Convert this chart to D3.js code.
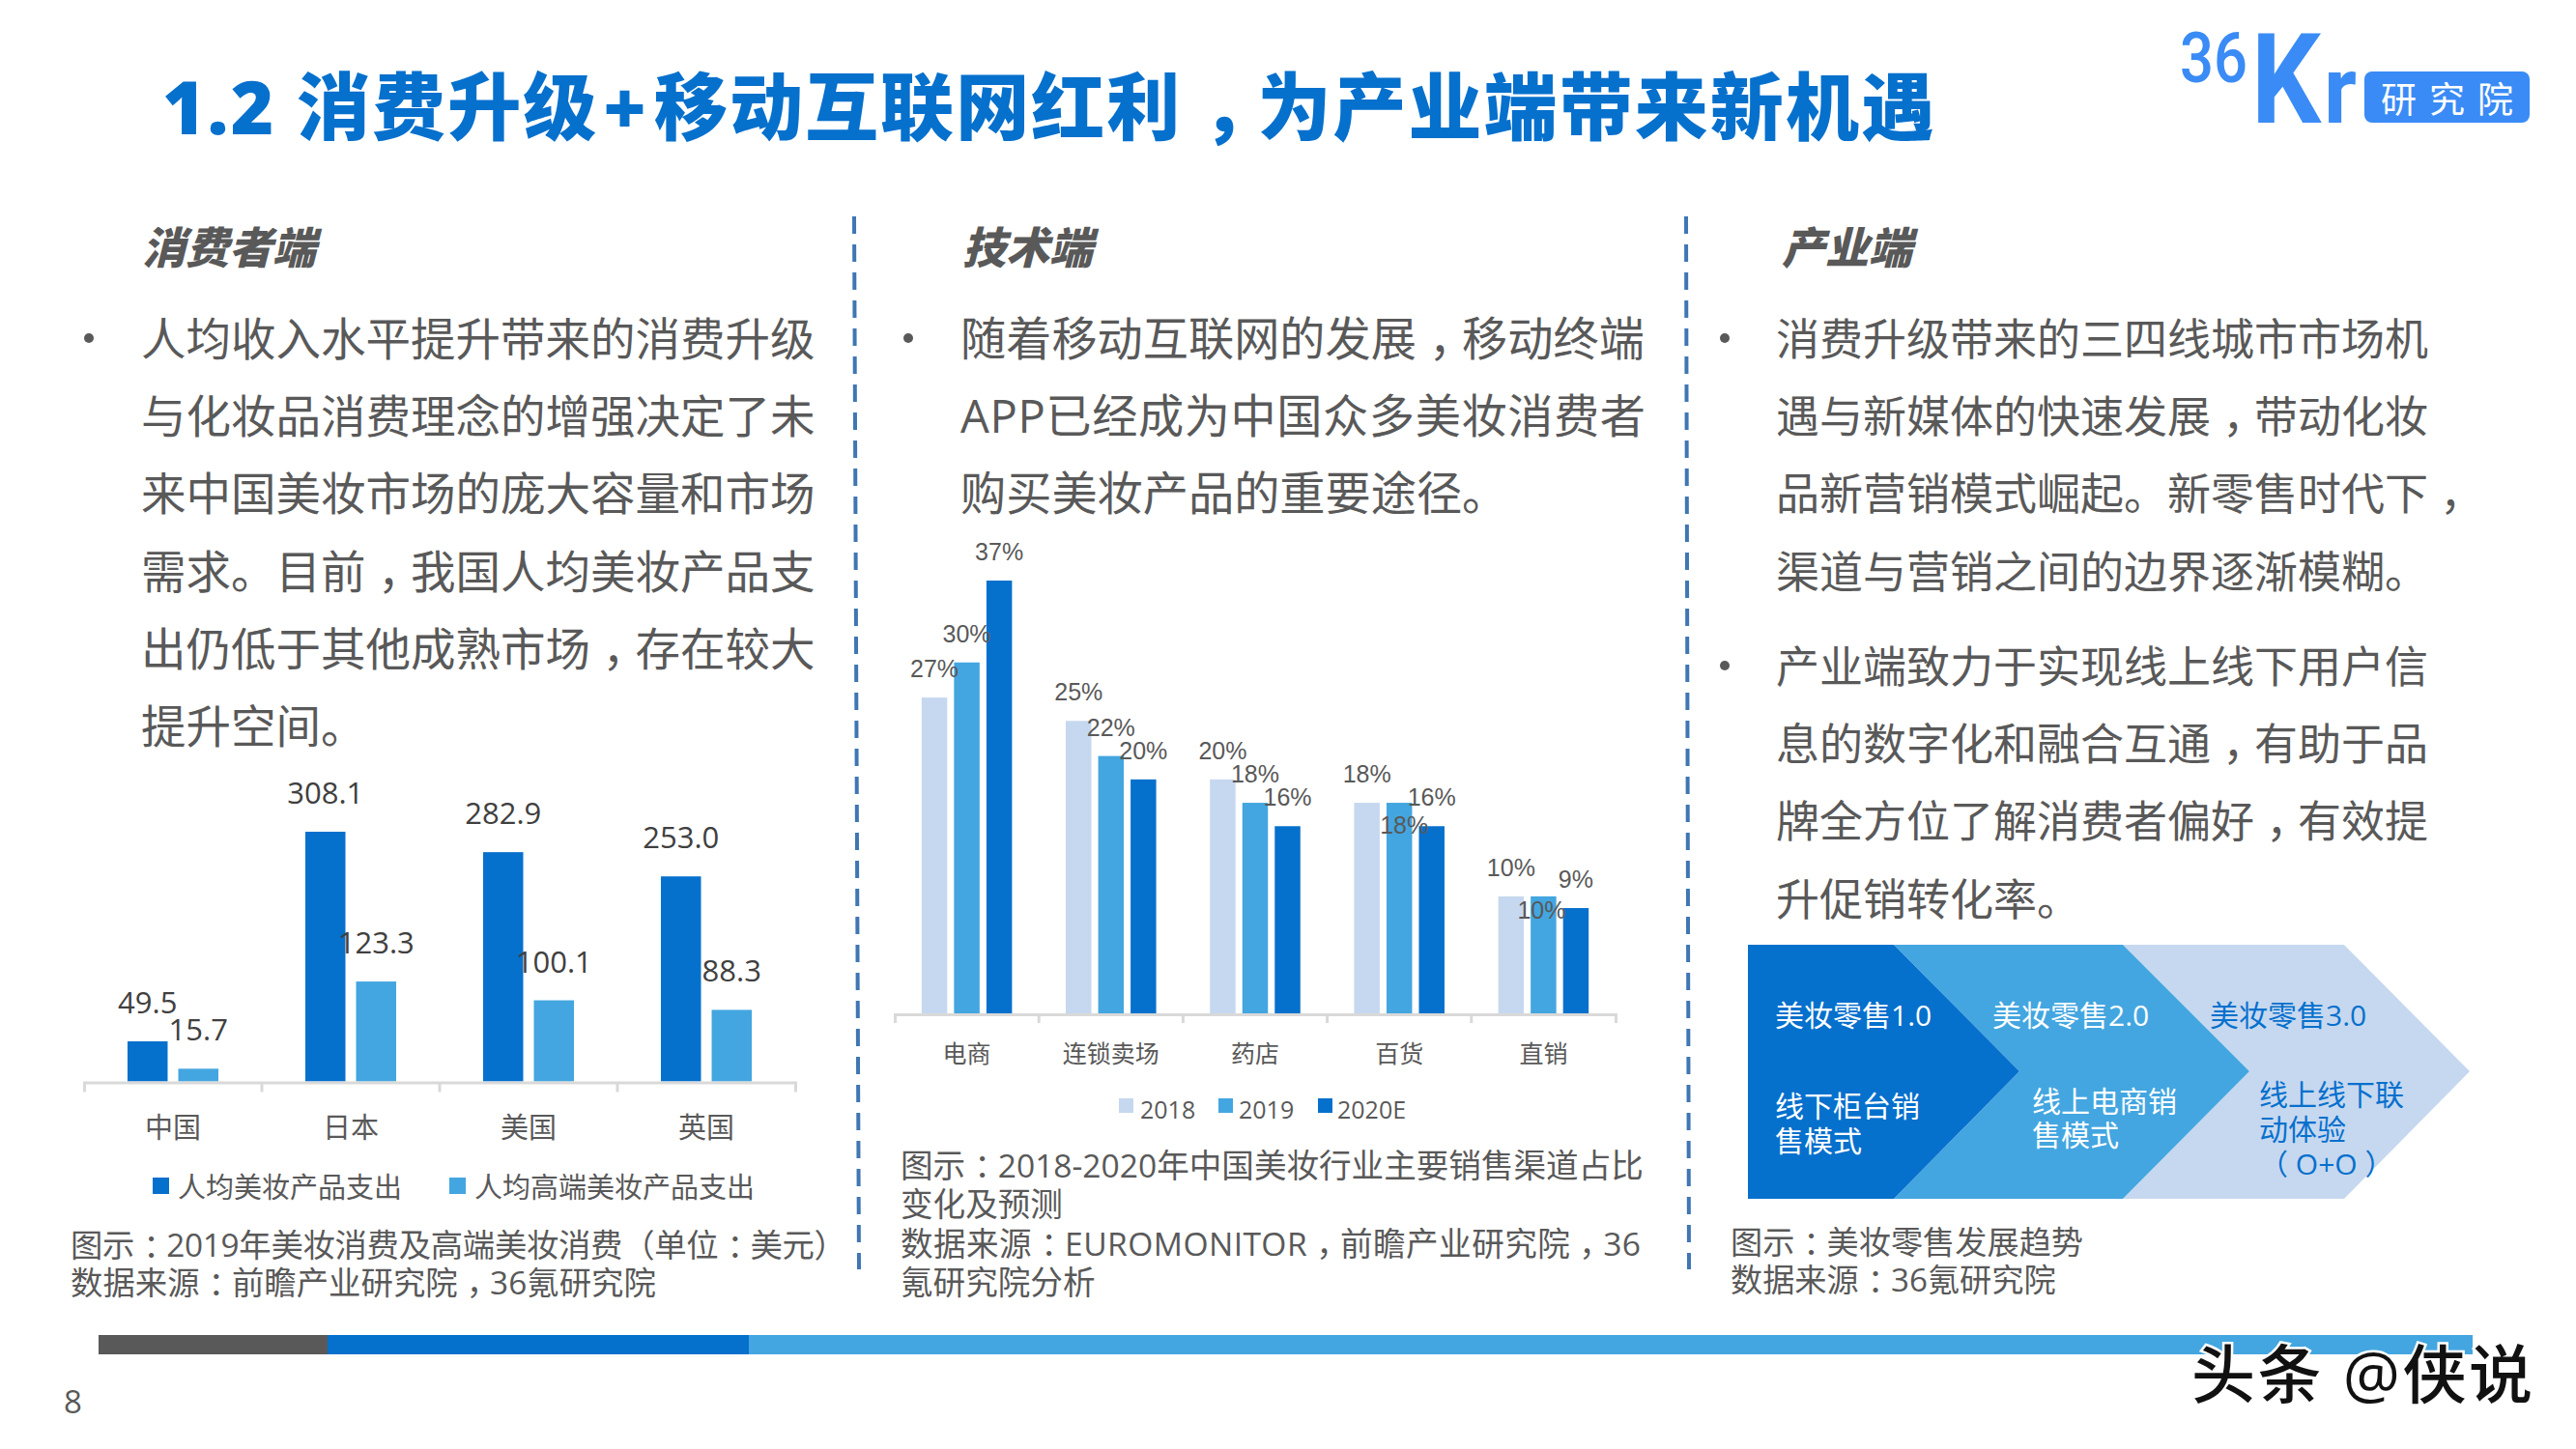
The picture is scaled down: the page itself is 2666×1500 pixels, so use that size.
<!DOCTYPE html>
<html>
<head>
<meta charset="utf-8">
<script src="https://cdn.jsdelivr.net/npm/d3@7"></script>
<style>
  html, body { margin: 0; padding: 0; background: #fff; }
  svg { display: block; }
  text { font-family: "Open Sans", "Noto Sans CJK SC", sans-serif; }
</style>
</head>
<body>
<svg id="slide" width="2666" height="1500"></svg>
<script>
// Spending per head chart
const spendCountries = ['中国', '日本', '美国', '英国'];
const spendSeries = ['人均美妆产品支出', '人均高端美妆产品支出'];
const spendAll = [49.5, 308.1, 282.9, 253.0];
const spendPremium = [15.7, 123.3, 100.1, 88.3];

// Sales channel chart
const channels = ['电商', '连锁卖场', '药店', '百货', '直销'];
const channelYears = ['2018', '2019', '2020E'];
const share2018 = [27, 25, 20, 18, 10];
const share2019 = [30, 22, 18, 18, 10];
const share2020 = [37, 20, 16, 16, 9];

// Retail stages
const stageTitles = ['美妆零售1.0', '美妆零售2.0', '美妆零售3.0'];
const stageNotes = [['线下柜台销', '售模式'], ['线上电商销', '售模式'], ['线上线下联', '动体验', '（ O+O ）']];

// Copy
const titleParts = ['1.2 消费升级', '+', '移动互联网红利，为产业端带来新机遇'];
const headings = ['消费者端', '技术端', '产业端'];
const consumerLines = ['人均收入水平提升带来的消费升级', '与化妆品消费理念的增强决定了未', '来中国美妆市场的庞大容量和市场',
  '需求。目前，我国人均美妆产品支', '出仍低于其他成熟市场，存在较大', '提升空间。'];
const techLines = ['随着移动互联网的发展，移动终端', 'APP已经成为中国众多美妆消费者', '购买美妆产品的重要途径。'];
const industryLinesA = ['消费升级带来的三四线城市市场机', '遇与新媒体的快速发展，带动化妆', '品新营销模式崛起。新零售时代下，', '渠道与营销之间的边界逐渐模糊。'];
const industryLinesB = ['产业端致力于实现线上线下用户信', '息的数字化和融合互通，有助于品', '牌全方位了解消费者偏好，有效提', '升促销转化率。'];
const captionLeft = ['图示：2019年美妆消费及高端美妆消费（单位：美元）', '数据来源：前瞻产业研究院，36氪研究院'];
const captionMid = ['图示：2018-2020年中国美妆行业主要销售渠道占比', '变化及预测', '数据来源：EUROMONITOR，前瞻产业研究院，36', '氪研究院分析'];
const captionRight = ['图示：美妆零售发展趋势', '数据来源：36氪研究院'];

const BLUE = '#0670cd', SKY = '#43a6e0', PALE = '#c6d8ef', GREY = '#595959', AXIS = '#d9d9d9', LOGO = '#3a8bf5';

const svg = d3.select('#slide');

// Commas and colons sit in the middle of their em box in the reference, so nudge them
function fillText(t, str) {
  str.split(/([，：])/).filter(s => s).forEach(part => {
    const span = t.append('tspan').text(part);
    if (part === '，' || part === '：') span.attr('dx', '0.27em').attr('letter-spacing', '-0.27em');
  });
  return t;
}

function label(parent, x, y, str, size, fill, extra) {
  const t = parent.append('text')
    .attr('x', x).attr('y', y)
    .attr('dominant-baseline', 'central')
    .attr('font-size', size)
    .attr('fill', fill);
  fillText(t, str);
  if (extra) Object.entries(extra).forEach(([k, v]) => t.attr(k, v));
  return t;
}

// ---- Title and logo
const title = svg.append('text').attr('x', 168).attr('y', 139)
  .attr('font-size', 76).attr('font-weight', 900).attr('fill', BLUE);
title.append('tspan').text(titleParts[0]);
title.append('tspan').attr('dx', 5).text(titleParts[1]);
const titleTail = title.append('tspan').attr('dx', 6);
fillText(titleTail, titleParts[2]);
title.attr('textLength', 1834).attr('lengthAdjust', 'spacing');

const logo = svg.append('g').attr('fill', LOGO);
logo.append('text').attr('x', 2256).attr('y', 85).attr('font-size', 72).attr('font-weight', 500)
  .attr('textLength', 70).attr('lengthAdjust', 'spacingAndGlyphs').attr('style', 'font-family:Roboto').text('36');
logo.append('text').attr('x', 2330).attr('y', 127).attr('font-size', 130).attr('font-weight', 700)
  .attr('textLength', 72).attr('lengthAdjust', 'spacingAndGlyphs').attr('style', 'font-family:Roboto').text('K');
logo.append('text').attr('x', 2405).attr('y', 127).attr('font-size', 98).attr('font-weight', 700)
  .attr('textLength', 34).attr('lengthAdjust', 'spacingAndGlyphs').attr('style', 'font-family:Roboto').text('r');
logo.append('rect').attr('x', 2447).attr('y', 74).attr('width', 171).attr('height', 53).attr('rx', 8);
label(svg, 2464, 102, '研究院', 37, '#fff', { 'letter-spacing': 13 });

// ---- Column dividers
[[884, 889], [1745, 1748]].forEach(([x1, x2]) => {
  svg.append('line').attr('x1', x1).attr('x2', x2).attr('y1', 224).attr('y2', 1314)
    .attr('stroke', '#3f76b3').attr('stroke-width', 4).attr('stroke-dasharray', '18 11');
});

// ---- Headings and body text
const headingX = [147, 996, 1844];
headings.forEach((h, i) => {
  label(svg, headingX[i], 255, h, 45, GREY, { 'font-weight': 900, 'font-style': 'italic' });
});

function paragraph(lines, bulletX, textX, top, size) {
  svg.append('circle').attr('cx', bulletX).attr('cy', top).attr('r', 5).attr('fill', GREY);
  return lines.map((line, i) => label(svg, textX, top + i * 80.2, line, size, GREY));
}
paragraph(consumerLines, 92, 146, 350, 46.5);
const techText = paragraph(techLines, 940, 994, 350, 47.2);
techText[1].attr('textLength', 709).attr('lengthAdjust', 'spacing');
paragraph(industryLinesA, 1785, 1838, 350, 45);
paragraph(industryLinesB, 1785, 1838, 689, 45);

// ---- Shared chart helper: band axis with ticks on the band edges
function bandAxis(g, x, y0, tickLen) {
  const axis = g.append('g').attr('transform', `translate(0,${y0})`)
    .call(d3.axisBottom(x).tickSize(0).tickSizeOuter(tickLen).tickPadding(0));
  axis.select('.domain').attr('stroke', AXIS).attr('stroke-width', 3);
  axis.selectAll('.tick text').remove();
  x.domain().slice(1).forEach(d => {
    axis.append('line').attr('x1', x(d)).attr('x2', x(d)).attr('y1', 0).attr('y2', tickLen)
      .attr('stroke', AXIS).attr('stroke-width', 3);
  });
  return axis;
}

// ---- Left chart
const leftChart = svg.append('g');
const x0L = d3.scaleBand().domain(spendCountries).range([87, 823]);
const x1L = d3.scaleBand().domain(spendSeries).range([0, x0L.bandwidth()]).paddingInner(0.21).paddingOuter(0.856);
const yL = d3.scaleLinear().domain([0, 308.1]).range([1119.5, 861]);
const colorL = d3.scaleOrdinal().domain(spendSeries).range([BLUE, SKY]);
const leftValues = [spendAll, spendPremium];

spendSeries.forEach((s, si) => {
  const series = leftChart.append('g');
  series.selectAll('rect').data(leftValues[si]).join('rect')
    .attr('x', (d, i) => x0L(spendCountries[i]) + x1L(s))
    .attr('y', d => yL(d))
    .attr('width', x1L.bandwidth())
    .attr('height', d => yL(0) - yL(d))
    .attr('fill', colorL(s));
  series.selectAll('text').data(leftValues[si]).join('text')
    .attr('x', (d, i) => x0L(spendCountries[i]) + x1L(s) + x1L.bandwidth() / 2)
    .attr('y', d => yL(d) - 41)
    .attr('text-anchor', 'middle')
    .attr('dominant-baseline', 'central')
    .attr('font-size', 31)
    .attr('fill', '#404040')
    .text(d => d.toFixed(1));
});
bandAxis(leftChart, x0L, 1120.5, 10);
spendCountries.forEach(c => {
  label(leftChart, x0L(c) + x0L.bandwidth() / 2, 1166, c, 29, GREY, { 'text-anchor': 'middle' });
});
const legendLX = [[158, 184], [465, 491]];
spendSeries.forEach((s, i) => {
  leftChart.append('rect').attr('x', legendLX[i][0]).attr('y', 1219).attr('width', 17).attr('height', 17).attr('fill', colorL(s));
  label(leftChart, legendLX[i][1], 1228, s, 29, GREY);
});

// ---- Middle chart
const midChart = svg.append('g');
const x0M = d3.scaleBand().domain(channels).range([926, 1672]);
const x1M = d3.scaleBand().domain(channelYears).range([0, x0M.bandwidth()]).paddingInner(0.21).paddingOuter(0.83);
const yM = d3.scaleLinear().domain([0, 37]).range([1049, 601]);
const colorM = d3.scaleOrdinal().domain(channelYears).range([PALE, SKY, BLUE]);
const midValues = [share2018, share2019, share2020];
// Two labels sit inside their bars in the reference: [dx, distance of label centre above bar top]
const labelShift = { '百货|2019': [5, -23], '直销|2019': [-2, -14] };

channelYears.forEach((yr, yi) => {
  midChart.append('g').selectAll('rect').data(midValues[yi]).join('rect')
    .attr('x', (d, i) => x0M(channels[i]) + x1M(yr))
    .attr('y', d => yM(d))
    .attr('width', x1M.bandwidth())
    .attr('height', d => yM(0) - yM(d))
    .attr('fill', colorM(yr));
});
channelYears.forEach((yr, yi) => {
  midChart.append('g').selectAll('text').data(midValues[yi]).join('text')
    .attr('x', (d, i) => {
      const shift = labelShift[`${channels[i]}|${yr}`];
      return x0M(channels[i]) + x1M(yr) + x1M.bandwidth() / 2 + (shift ? shift[0] : 0);
    })
    .attr('y', (d, i) => {
      const shift = labelShift[`${channels[i]}|${yr}`];
      return yM(d) - (shift ? shift[1] : 30);
    })
    .attr('text-anchor', 'middle')
    .attr('dominant-baseline', 'central')
    .attr('font-size', 25)
    .attr('fill', GREY)
    .attr('style', 'font-family:"Liberation Sans"')
    .text(d => `${d}%`);
});
bandAxis(midChart, x0M, 1050, 9);
channels.forEach(c => {
  label(midChart, x0M(c) + x0M.bandwidth() / 2, 1090, c, 25, GREY, { 'text-anchor': 'middle' });
});
const legendMX = [[1158, 1180], [1261, 1282], [1364, 1384]];
channelYears.forEach((yr, i) => {
  midChart.append('rect').attr('x', legendMX[i][0]).attr('y', 1137).attr('width', 15).attr('height', 15).attr('fill', colorM(yr));
  label(midChart, legendMX[i][1], 1148, yr, 25, GREY);
});

// ---- Chevrons, drawn back to front
const chevTop = 978, chevBottom = 1241, chevMid = 1109;
const chevEdges = [1809, 1960, 2197, 2426];
const chevTips = [2090, 2328, 2556];
const chevFill = [BLUE, SKY, PALE];
const chevPath = d3.line();
[2, 1, 0].forEach(i => {
  const pts = [[chevEdges[i], chevTop], [chevEdges[i + 1], chevTop], [chevTips[i], chevMid], [chevEdges[i + 1], chevBottom], [chevEdges[i], chevBottom]];
  if (i > 0) pts.push([chevTips[i - 1], chevMid]);
  svg.append('path').attr('d', chevPath(pts) + 'Z').attr('fill', chevFill[i]);
});
const stageTitleX = [1837, 2062, 2287];
const stageNoteX = [1837, 2103, 2338];
const stageNoteY = [1144, 1139, 1132];
const stageNotePitch = [36, 35, 36];
const stageInk = ['#fff', '#fff', BLUE];
stageTitles.forEach((t, i) => {
  label(svg, stageTitleX[i], 1050, t, 30, stageInk[i]);
  stageNotes[i].forEach((n, j) => {
    label(svg, stageNoteX[i], stageNoteY[i] + j * stageNotePitch[i], n, 30, stageInk[i]);
  });
});

// ---- Captions
function caption(lines, x, top, pitch, size) {
  return lines.map((line, i) => label(svg, x, top + i * pitch, line, size, GREY));
}
caption(captionLeft, 73, 1288, 39, 33.4)[0].attr('textLength', 803).attr('lengthAdjust', 'spacing');
caption(captionMid, 932, 1206, 40.3, 33.6)[2].attr('textLength', 766).attr('lengthAdjust', 'spacing');
caption(captionRight, 1791, 1285, 39, 33.2);

// ---- Footer bar, page number, watermark
const footer = [[102, 339, GREY], [339, 775, BLUE], [775, 2559, SKY]];
footer.forEach(([a, b, c]) => {
  svg.append('rect').attr('x', a).attr('y', 1382).attr('width', b - a).attr('height', 20).attr('fill', c);
});
label(svg, 66, 1450, '8', 33, GREY);
svg.append('text').attr('x', 2268).attr('y', 1447)
  .attr('font-size', 66).attr('font-weight', 500).attr('fill', '#111')
  .attr('stroke', '#fff').attr('stroke-width', 5).attr('paint-order', 'stroke')
  .attr('textLength', 353).attr('lengthAdjust', 'spacing')
  .text('头条 @侠说');
</script>
</body>
</html>
